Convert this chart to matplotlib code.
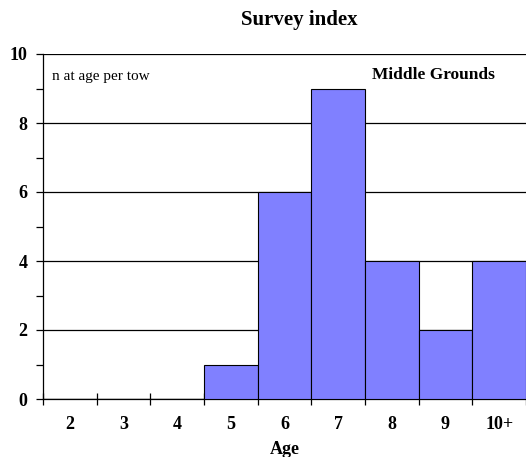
import matplotlib.pyplot as plt
import numpy as np

ages = ["2", "3", "4", "5", "6", "7", "8", "9", "10+"]
n_per_tow = [0, 0, 0, 1, 6, 9, 4, 2, 4]

plt.rcParams["font.family"] = ["Liberation Serif", "DejaVu Serif"]

fig = plt.figure(figsize=(5.26, 4.57), dpi=100)
ax = fig.add_axes([43 / 526, 1 - 399 / 457, 1 - 43 / 526, (399 - 54) / 457])

x = np.arange(len(ages))
ax.bar(x, n_per_tow, width=1.0, color="#8080FF", edgecolor="black", linewidth=0.8, zorder=3)

ax.set_xlim(-0.5, len(ages) - 0.5)
ax.set_ylim(0, 10)
ax.set_yticks(np.arange(0, 11, 2))
ax.set_yticks(np.arange(1, 10, 2), minor=True)
ax.yaxis.grid(True, color="black", linewidth=0.9, zorder=1)
ax.set_axisbelow(True)

# category labels centred, ticks on the boundaries
ax.set_xticks(x)
ax.set_xticklabels(ages, fontweight="bold", fontsize=13)
ax.tick_params(axis="x", which="major", length=0, pad=12)
ax.set_xticks(np.arange(-0.5, len(ages)), minor=True)
ax.tick_params(axis="x", which="minor", direction="inout", length=8, width=0.9)
ax.tick_params(axis="y", which="major", direction="out", length=5, width=0.9,
               labelsize=13, pad=6)
ax.tick_params(axis="y", which="minor", direction="out", length=5, width=0.9)
for lab in ax.get_yticklabels():
    lab.set_fontweight("bold")

for s in ["top", "right"]:
    ax.spines[s].set_visible(False)
ax.spines["left"].set_linewidth(0.9)
ax.spines["bottom"].set_linewidth(0.9)

ax.text(0.018, 0.935, "n at age per tow", transform=ax.transAxes, fontsize=11, va="center")
ax.text(0.808, 0.94, "Middle Grounds", transform=ax.transAxes, fontsize=12.5,
        fontweight="bold", ha="center", va="center")

ax.set_xlabel("Age", fontweight="bold", fontsize=13, labelpad=6)
fig.text(299 / 526, 1 - 20 / 457, "Survey index", fontweight="bold", fontsize=15,
         ha="center", va="center")

fig.savefig("out.png", dpi=100)
